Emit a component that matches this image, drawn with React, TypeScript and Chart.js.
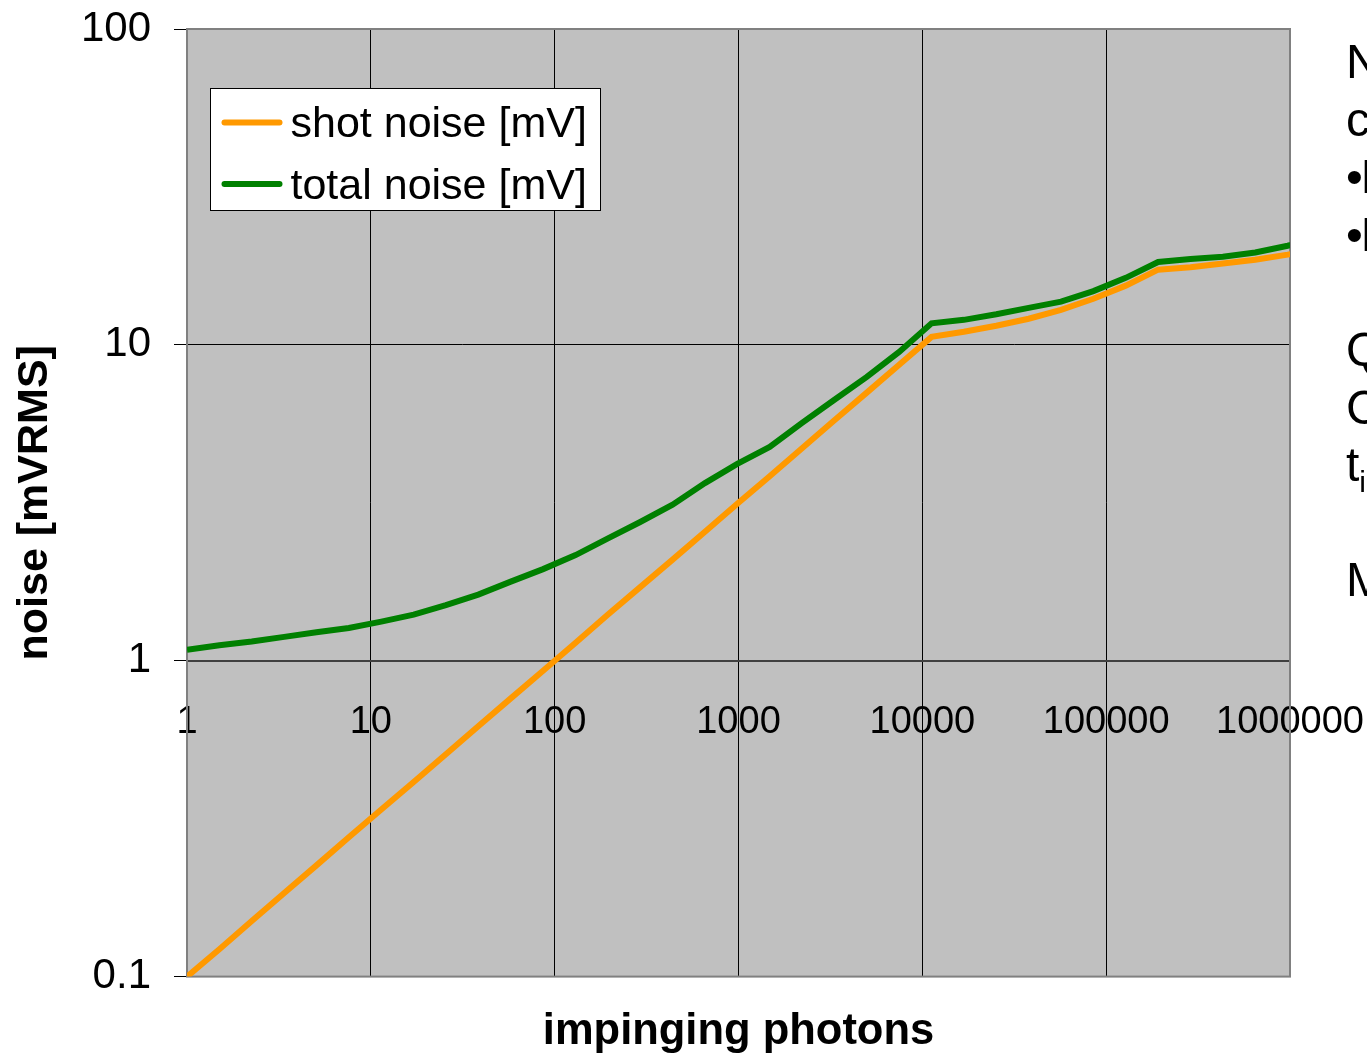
import React, { useEffect, useRef } from 'react';
import { Chart, registerables } from 'chart.js';

Chart.register(...registerables);

const FONT = '"Liberation Sans", Arial, Helvetica, sans-serif';

// impinging photons (x values of the sampled curve)
const photons = [1, 1.5, 2.25, 3.38, 5.06, 7.59, 11.4, 17.1, 25.6, 38.4, 57.7, 86.5, 130, 195, 292, 438, 657, 985, 1478, 2217, 3325, 4988, 7482, 11223, 16834, 25251, 37877, 56815, 85223, 127834, 191751, 287627, 431440, 647160, 970739, 1456110];
// shot noise [mV]
const shotNoise = [0.1, 0.122, 0.15, 0.184, 0.225, 0.276, 0.338, 0.413, 0.506, 0.62, 0.76, 0.93, 1.14, 1.4, 1.71, 2.09, 2.56, 3.14, 3.84, 4.71, 5.77, 7.06, 8.65, 10.6, 11.0, 11.5, 12.1, 12.9, 14.0, 15.4, 17.3, 17.6, 18.1, 18.6, 19.3, 20.2];
// total noise [mV]
const totalNoise = [1.083, 1.12, 1.15, 1.19, 1.23, 1.27, 1.33, 1.4, 1.5, 1.62, 1.78, 1.95, 2.16, 2.44, 2.75, 3.12, 3.65, 4.2, 4.75, 5.66, 6.7, 7.92, 9.5, 11.7, 12.0, 12.5, 13.1, 13.7, 14.8, 16.3, 18.3, 18.7, 19.0, 19.6, 20.6, 21.8];

const seriesNames = ['shot noise [mV]', 'total noise [mV]'];
const seriesColors = ['#FF9900', '#008000'];

const xTickValues = [1, 10, 100, 1000, 10000, 100000, 1000000];
const xTickLabels = ['1', '10', '100', '1000', '10000', '100000', '1000000'];
const yTickValues = [0.1, 1, 10, 100];
const yTickLabels = ['0.1', '1', '10', '100'];

const xTitle = 'impinging photons';
const yTitle = 'noise [mVRMS]';

export default function App() {
  const ref = useRef<HTMLCanvasElement>(null);

  useEffect(() => {
    if (!ref.current) return;

    const decorPlugin = {
      id: 'decor',
      beforeDraw(chart: any) {
        const { ctx, chartArea: a } = chart;
        ctx.save();
        ctx.fillStyle = '#c0c0c0';
        ctx.fillRect(a.left, a.top, a.right - a.left, a.bottom - a.top);
        ctx.restore();
      },
      beforeDatasetsDraw(chart: any) {
        const { ctx, chartArea: a } = chart;
        ctx.save();
        ctx.strokeStyle = '#808080';
        ctx.lineWidth = 2;
        ctx.strokeRect(a.left, a.top, a.right - a.left, a.bottom - a.top);
        ctx.restore();
      },
      afterDraw(chart: any) {
        const { ctx, chartArea: a } = chart;
        const bx = a.left + 23.5;
        const by = a.top + 59.5;
        const bw = 390;
        const bh = 122;
        ctx.save();
        ctx.fillStyle = '#ffffff';
        ctx.fillRect(bx, by, bw, bh);
        ctx.strokeStyle = '#000000';
        ctx.lineWidth = 1;
        ctx.strokeRect(bx, by, bw, bh);
        chart.data.datasets.forEach((ds: any, i: number) => {
          const cy = by + 34 + i * 61.5;
          ctx.strokeStyle = ds.borderColor;
          ctx.lineWidth = 6;
          ctx.lineCap = 'round';
          ctx.beginPath();
          ctx.moveTo(bx + 14, cy);
          ctx.lineTo(bx + 69, cy);
          ctx.stroke();
          ctx.fillStyle = '#000000';
          ctx.font = `43px ${FONT}`;
          ctx.textBaseline = 'middle';
          ctx.textAlign = 'left';
          ctx.fillText(ds.label, bx + 80, cy + 3);
        });
        ctx.restore();
      },
    };

    const chart = new Chart(ref.current, {
      type: 'line',
      data: {
        datasets: [
          {
            label: seriesNames[0],
            data: photons.map((p, i) => ({ x: p, y: shotNoise[i] })),
            borderColor: seriesColors[0],
            backgroundColor: seriesColors[0],
            borderWidth: 6,
            pointRadius: 0,
            tension: 0,
            order: 2,
          },
          {
            label: seriesNames[1],
            data: photons.map((p, i) => ({ x: p, y: totalNoise[i] })),
            borderColor: seriesColors[1],
            backgroundColor: seriesColors[1],
            borderWidth: 6,
            pointRadius: 0,
            tension: 0,
            order: 1,
          },
        ],
      },
      options: {
        animation: false,
        responsive: false,
        devicePixelRatio: 1,
        layout: { padding: { left: 0, top: 29, right: 77, bottom: 0 } },
        plugins: {
          legend: { display: false },
          tooltip: { enabled: false },
          title: {
            display: true,
            position: 'bottom',
            fullSize: false,
            text: xTitle,
            color: '#000000',
            font: { family: FONT, size: 43.5, weight: 'bold' },
            padding: { top: 29.6, bottom: -4.4 },
          },
        },
        scales: {
          x: {
            type: 'logarithmic',
            axis: 'x',
            min: 1,
            max: 1000000,
            position: { y: 1 } as any,
            afterBuildTicks: (scale: any) => {
              scale.ticks = xTickValues.map((v) => ({ value: v }));
            },
            afterFit: (scale: any) => {
              scale.paddingLeft = 0;
              scale.paddingRight = 0;
            },
            ticks: {
              autoSkip: false,
              maxRotation: 0,
              minRotation: 0,
              padding: 39,
              color: '#000000',
              font: { family: FONT, size: 38 },
              callback: (_v: any, i: number) => xTickLabels[i],
            },
            grid: {
              color: '#000000',
              lineWidth: 1,
              drawTicks: false,
            },
            border: { display: true, color: '#404040', width: 2 },
          },
          y: {
            type: 'logarithmic',
            position: 'left',
            min: 0.1,
            max: 100,
            afterBuildTicks: (scale: any) => {
              scale.ticks = yTickValues.map((v) => ({ value: v }));
            },
            afterFit: (scale: any) => {
              scale.width = 187;
              scale.paddingTop = 0;
              scale.paddingBottom = 0;
            },
            ticks: {
              padding: 23,
              color: '#000000',
              font: { family: FONT, size: 42 },
              callback: (_v: any, i: number) => yTickLabels[i],
            },
            grid: {
              color: '#000000',
              lineWidth: 1,
              drawTicks: true,
              tickLength: 13,
              tickColor: '#000000',
            },
            border: { display: false },
            title: {
              display: true,
              text: yTitle,
              color: '#000000',
              font: { family: FONT, size: 43, weight: 'bold' },
              padding: { top: 9, bottom: 0 },
            },
          },
        },
      },
      plugins: [decorPlugin],
    } as any);

    return () => chart.destroy();
  }, []);

  return (
    <div
      style={{
        position: 'absolute',
        left: 0,
        top: 0,
        width: 1367,
        height: 1054,
        overflow: 'hidden',
        background: '#ffffff',
      }}
    >
      <canvas ref={ref} width={1367} height={1054} style={{ width: 1367, height: 1054, display: 'block' }} />
      <div
        style={{
          position: 'absolute',
          left: 1346,
          top: 33,
          fontFamily: FONT,
          fontSize: 48,
          lineHeight: '57.6px',
          color: '#000000',
          whiteSpace: 'nowrap',
        }}
      >
        <div>Noise</div>
        <div>contributions:</div>
        <div>
          <span style={{ marginRight: -2 }}>•</span>Photon shot noise
        </div>
        <div>
          <span style={{ marginRight: -2 }}>•</span>Read noise
        </div>
        <div>&nbsp;</div>
        <div>QE</div>
        <div>Conversion gain</div>
        <div>
          t<sub style={{ fontSize: 30, lineHeight: 0 }}>int</sub>
        </div>
        <div>&nbsp;</div>
        <div>Model</div>
      </div>
    </div>
  );
}
